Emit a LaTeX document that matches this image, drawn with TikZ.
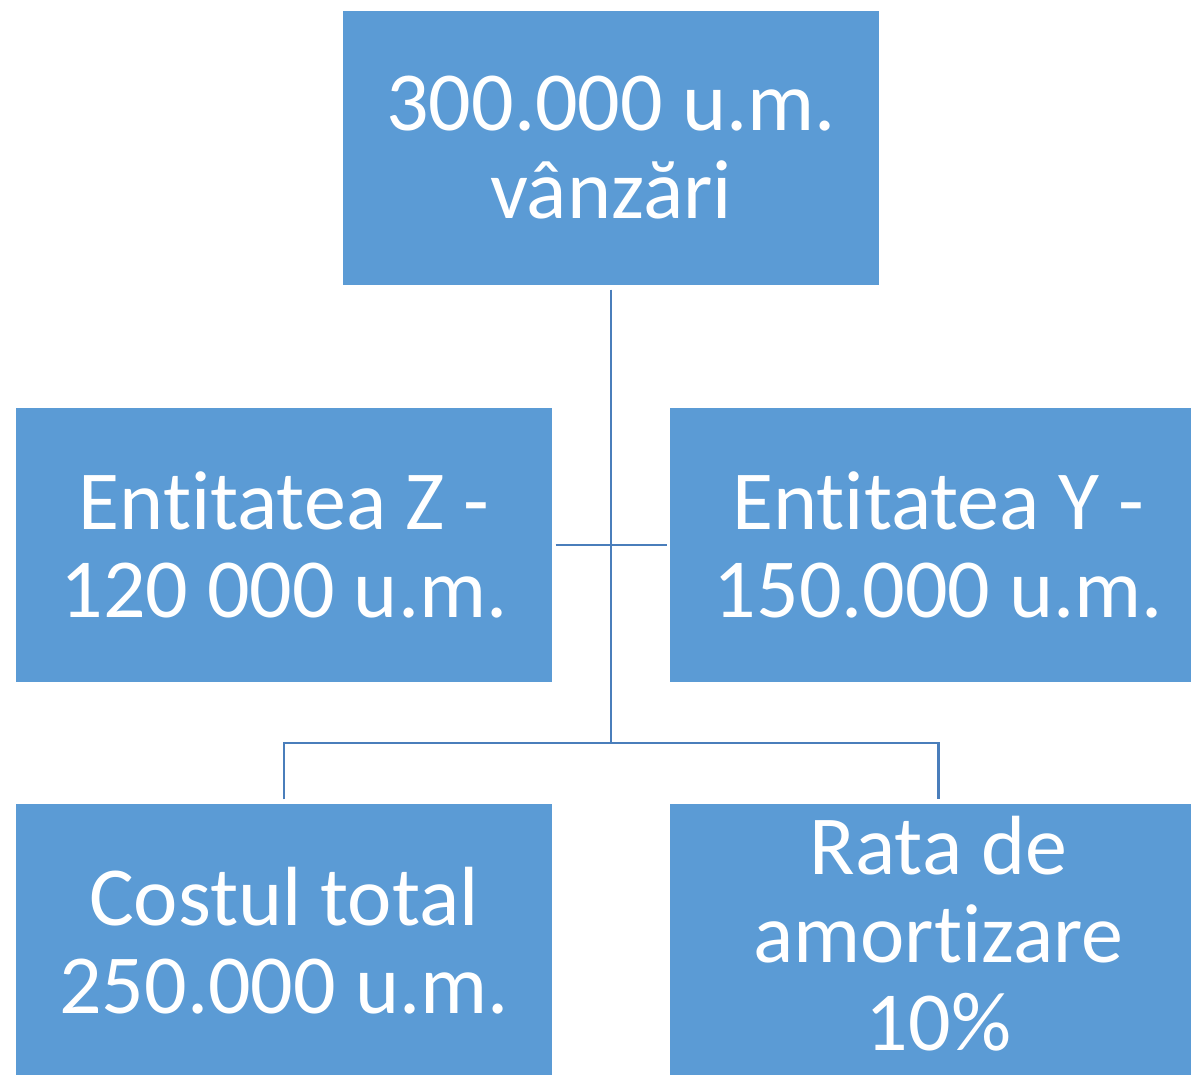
\documentclass[tikz,border=0pt]{standalone}
\usepackage{fontspec}
\setmainfont[Ligatures={NoCommon,NoRare,NoContextual}]{Carlito}
\definecolor{boxfill}{HTML}{5B9BD5}
\definecolor{linecol}{HTML}{4A7EBB}
\begin{document}
\begin{tikzpicture}[x=0.5pt,y=-0.5pt,
  orgbox/.style={fill=boxfill, draw=white, line width=0.6pt, minimum width=269pt, minimum height=138pt,
    text=white, align=center, inner sep=0pt, font=\fontsize{42}{44}\selectfont},
  conn/.style={draw=linecol, line width=1.1pt}]
\useasboundingbox (0,0) rectangle (1191,1075);
\clip (0,0) rectangle (1191,1075);
\node[orgbox] (top) at (611,148) {300.000 u.m.\\vânzări};
\node[orgbox] (zl) at (284,545) {Ent\kern0pt itatea Z -\\120 000 u.m.};
\node[orgbox] (yr) at (938.5,545) {Ent\kern0pt itatea Y -\\150.000 u.m.};
\node[orgbox] (cost) at (284,941) {Costul total\\250.000 u.m.};
\node[orgbox, text depth=8pt] (rata) at (938.5,941) {Rata de\\amort\kern0pt izare\\10\%};
\coordinate (j) at (611,743);
\draw[conn] ([yshift=-1.5pt]top.south) -- (j);
\draw[conn] ([xshift=1pt]zl.east) -- ([xshift=-1pt]yr.west);
\draw[conn] ([yshift=1.5pt]cost.north) |- (j) -| ([yshift=1.5pt]rata.north);
\end{tikzpicture}
\end{document}
